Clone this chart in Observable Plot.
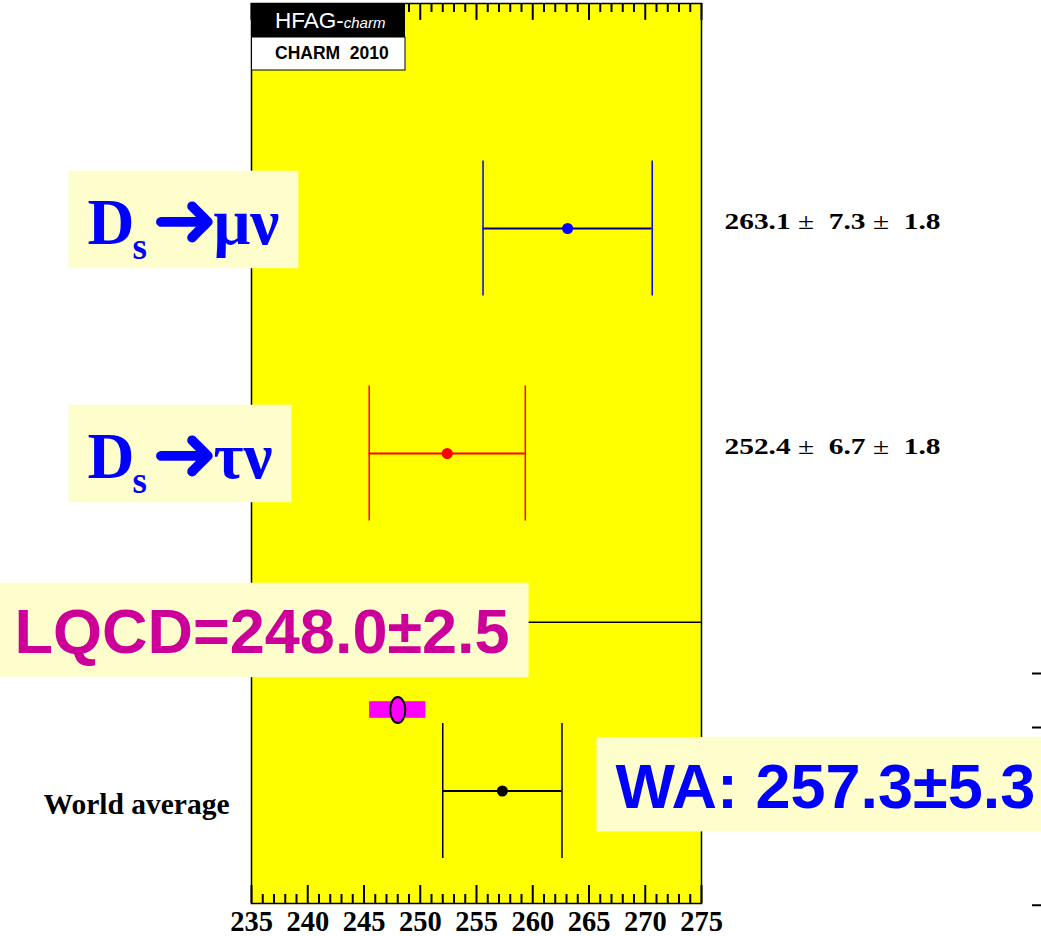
<!DOCTYPE html>
<html>
<head>
<meta charset="utf-8">
<script src="https://cdn.jsdelivr.net/npm/d3@7"></script>
<script src="https://cdn.jsdelivr.net/npm/@observablehq/plot@0.6"></script>
<style>
  html, body { margin: 0; padding: 0; background: #fff; overflow: hidden; }
  #chart svg { display: block; overflow: hidden; }
</style>
</head>
<body>
<div id="chart"></div>
<script>
// ---- values: Ds leptonic decay constant fDs (MeV) ----
const channels = ["μν", "τν"];
const centralValues = [263.1, 252.4];
const statErrors = [7.3, 6.7];
const systErrors = [1.8, 1.8];

const averageLabel = "World average";
const averageValue = 257.3;
const averageError = 5.3;

const lqcdValue = 248.0;
const lqcdError = 2.5;

const tickLabels = [235, 240, 245, 250, 255, 260, 265, 270, 275];
const minorTickValues = [236, 237, 238, 239, 241, 242, 243, 244, 246, 247, 248, 249,
  251, 252, 253, 254, 256, 257, 258, 259, 261, 262, 263, 264, 266, 267, 268, 269,
  271, 272, 273, 274];
// stub ticks of the neighbouring panel's axis, in row units
const neighbourTickRows = [1.02, 0.78, -0.01];

// ---- layout & styles ----
const serif = "'Liberation Serif', 'Times New Roman', Times, serif";
const sans = "'Liberation Sans', Arial, Helvetica, sans-serif";
const barColors = ["#00008b", "#ff0000"];
const capColors = ["#0000ff", "#ff0000"];
const dotColors = ["#0000ff", "#ff0000"];
const rowOf = i => channels.length + 1 - i;   // 3, 2
const averageRow = 0.5;
const separatorRow = 1.25;
const lqcdRow = 0.86;
const capHalf = 0.3;
const decayLabelShift = [15, 24];

const measurements = channels.map((c, i) => {
  const total = Math.hypot(statErrors[i], systErrors[i]);
  return {
    channel: c,
    value: centralValues[i],
    lo: centralValues[i] - total,
    hi: centralValues[i] + total,
    row: rowOf(i),
    bar: barColors[i], cap: capColors[i], dot: dotColors[i],
    text: `${centralValues[i].toFixed(1)} ±  ${statErrors[i].toFixed(1)} ±  ${systErrors[i].toFixed(1)}`
  };
});
const average = {
  value: averageValue, lo: averageValue - averageError, hi: averageValue + averageError,
  row: averageRow, bar: "black", cap: "black", dot: "black"
};
const points = [...measurements, average];
const caps = points.flatMap(p => [p.lo, p.hi].map(x => ({x, row: p.row, cap: p.cap})));
const lqcd = {value: lqcdValue, lo: lqcdValue - lqcdError, hi: lqcdValue + lqcdError};

// ellipse marker (taller than wide)
const ellipseSymbol = {
  draw(ctx, size) {
    const ry = Math.sqrt(size / Math.PI), rx = ry * 0.58, k = 0.5523;
    ctx.moveTo(rx, 0);
    ctx.bezierCurveTo(rx, k * ry, k * rx, ry, 0, ry);
    ctx.bezierCurveTo(-k * rx, ry, -rx, k * ry, -rx, 0);
    ctx.bezierCurveTo(-rx, -k * ry, -k * rx, -ry, 0, -ry);
    ctx.bezierCurveTo(k * rx, -ry, rx, -k * ry, rx, 0);
    ctx.closePath();
  }
};

const plot = Plot.plot({
  width: 1041,
  height: 936,
  marginLeft: 251,
  marginRight: 340,
  marginTop: 3,
  marginBottom: 33,
  style: {background: "white", fontFamily: serif},
  x: {domain: [235, 275]},
  y: {domain: [0, 4], axis: null},
  color: {type: "identity"},
  marks: [
    Plot.frame({fill: "#ffff00", stroke: "none"}),
    Plot.ruleY([separatorRow], {stroke: "black", strokeWidth: 1.5}),
    // lattice QCD band and marker
    Plot.rect([lqcd], {x1: "lo", x2: "hi", y1: () => lqcdRow - 0.037, y2: () => lqcdRow + 0.037, fill: "#ff00ff"}),
    Plot.dot([lqcd], {x: "value", y: () => lqcdRow, r: 13, symbol: ellipseSymbol, fill: "#ff00ff", stroke: "black", strokeWidth: 2}),
    // error bars
    Plot.ruleY(points, {y: "row", x1: "lo", x2: "hi", stroke: "bar", strokeWidth: 2}),
    Plot.ruleX(caps, {x: "x", y1: d => d.row - capHalf, y2: d => d.row + capHalf, stroke: "cap", strokeWidth: 1.5}),
    Plot.dot(points, {x: "value", y: "row", r: 5.5, fill: "dot", stroke: "none"}),
    // inward ticks, bottom and top
    Plot.ruleX(tickLabels, {x: d => d, y1: 0, y2: 0.08, stroke: "black", strokeWidth: 2}),
    Plot.ruleX(minorTickValues, {x: d => d, y1: 0, y2: 0.04, stroke: "black", strokeWidth: 2}),
    Plot.ruleX(tickLabels, {x: d => d, y1: 4, y2: 3.925, stroke: "black", strokeWidth: 2}),
    Plot.ruleX(minorTickValues, {x: d => d, y1: 4, y2: 3.96, stroke: "black", strokeWidth: 2}),
    Plot.frame({stroke: "black", strokeWidth: 1.5}),
    Plot.axisX(tickLabels, {
      tickSize: 0, tickPadding: 7, label: null, tickFormat: d => String(d),
      fontSize: 28.5, fontWeight: "bold", fontFamily: serif, fill: "black"
    }),
    // numeric results to the right of the frame
    Plot.text(measurements, {
      text: "text", y: "row", frameAnchor: "right", dx: 23, textAnchor: "start", lineAnchor: "bottom",
      fontSize: 23.5, fontWeight: "bold", fontFamily: serif, fill: "black", className: "value-label"
    }),
    Plot.text([averageLabel], {
      text: d => d, y: () => averageRow, frameAnchor: "left", dx: -22, dy: 23, textAnchor: "end", lineAnchor: "bottom",
      fontSize: 29.5, fontWeight: "bold", fontFamily: serif, fill: "black"
    }),
    // decay-channel labels
    ...measurements.map((m, i) => Plot.text([m], {
      text: "channel", y: "row", frameAnchor: "left", dx: -164, dy: decayLabelShift[i], textAnchor: "start", lineAnchor: "bottom",
      fontSize: 65, fontWeight: "bold", fontFamily: serif, fill: "#0000ff", className: "boxed-label decay-label"
    })),
    Plot.text([lqcd], {
      text: d => `LQCD=${d.value.toFixed(1)}±${lqcdError.toFixed(1)}`, y: () => separatorRow,
      frameAnchor: "left", dx: -237, dy: 31, textAnchor: "start", lineAnchor: "bottom",
      fontSize: 63, fontWeight: "bold", fontFamily: sans, fill: "#cc0099", className: "boxed-label"
    }),
    Plot.text([average], {
      text: d => `WA: ${d.value.toFixed(1)}±${averageError.toFixed(1)}`, y: "row",
      frameAnchor: "right", dx: -86, dy: 16.5, textAnchor: "start", lineAnchor: "bottom",
      fontSize: 63, fontWeight: "bold", fontFamily: sans, fill: "#0000ff", className: "boxed-label"
    })
  ]
});

document.getElementById("chart").appendChild(plot);

const NS = "http://www.w3.org/2000/svg";
const el = (tag, attrs, parent) => {
  const e = document.createElementNS(NS, tag);
  for (const [k, v] of Object.entries(attrs)) e.setAttribute(k, v);
  if (parent) parent.appendChild(e);
  return e;
};

// decay labels: D_s → channel
plot.querySelectorAll("g.decay-label text").forEach(t => {
  const ch = t.textContent;
  t.textContent = "";
  const d = el("tspan", {x: 0}, t); d.textContent = "D";
  const s = el("tspan", {x: 45, dy: 15, "font-size": 37}, t); s.textContent = "s";
  const a = el("tspan", {x: 64, dy: -12, "font-family": "'DejaVu Sans', sans-serif", "font-size": 80}, t);
  a.textContent = "➜";
  const g = el("tspan", {x: 126, dy: -3}, t); g.textContent = ch;
});

// numeric results: thin ± signs, stretched to the printed width
plot.querySelectorAll("g.value-label text").forEach(t => {
  const parts = t.textContent.split("±");
  t.textContent = "";
  t.setAttribute("style", "white-space: pre");
  parts.forEach((p, i) => {
    if (i > 0) { const pm = el("tspan", {"font-weight": "normal"}, t); pm.textContent = "±"; }
    const sp = el("tspan", {}, t); sp.textContent = p;
  });
  t.setAttribute("textLength", 216);
  t.setAttribute("lengthAdjust", "spacingAndGlyphs");
});

// pale boxes behind the large labels
plot.querySelectorAll("g.boxed-label").forEach(g => {
  const fs = parseFloat(g.getAttribute("font-size"));
  g.querySelectorAll("text").forEach(t => {
    const bb = t.getBBox();
    const r = el("rect", {
      x: bb.x - 19, width: bb.width + 38, y: -1.12 * fs, height: 1.5 * fs,
      fill: "#fefdcc", stroke: "none", transform: t.getAttribute("transform") || ""
    });
    g.insertBefore(r, t);
  });
});

// HFAG-charm badge in the top-left corner of the frame
const xScale = plot.scale("x"), yScale = plot.scale("y");
const frameLeft = xScale.apply(235), frameTop = yScale.apply(4);
const badge = el("g", {transform: `translate(${frameLeft},${frameTop})`, "text-anchor": "start"}, plot);
el("rect", {x: 0, y: 0, width: 154, height: 34, fill: "black"}, badge);
el("rect", {x: 0.5, y: 34, width: 153.5, height: 33, fill: "white", stroke: "black", "stroke-width": 1}, badge);
const hf = el("text", {x: 24, y: 25, fill: "white", "font-family": sans, "font-size": 22.5, "font-weight": 300, "text-anchor": "start"}, badge);
const t1 = el("tspan", {}, hf); t1.textContent = "HFAG-";
const t2 = el("tspan", {"font-style": "italic", "font-size": 15}, hf); t2.textContent = "charm";
const charmText = el("text", {x: 24, y: 56, fill: "black", "font-family": sans, "font-size": 17.5, "font-weight": "bold", "text-anchor": "start", style: "white-space: pre"}, badge);
charmText.textContent = "CHARM  2010";

// stub ticks at the right edge
neighbourTickRows.forEach(v => {
  el("line", {x1: 1032, x2: 1041, y1: yScale.apply(v), y2: yScale.apply(v), stroke: "black", "stroke-width": 2}, plot);
});
</script>
</body>
</html>
